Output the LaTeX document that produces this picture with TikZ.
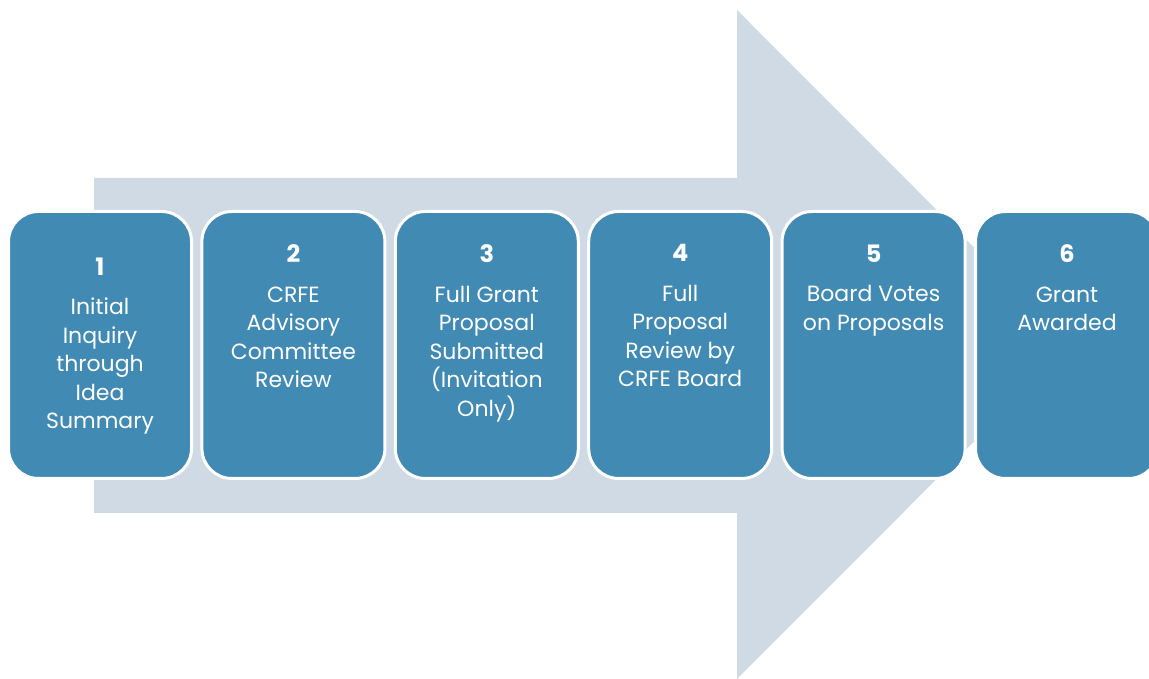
\documentclass[tikz,border=0pt]{standalone}
\usepackage{fontspec}
\setmainfont{Poppins}
\usetikzlibrary{positioning}
\definecolor{stepblue}{RGB}{65,138,179}
\definecolor{arrowgray}{RGB}{208,218,228}

\begin{document}
\begin{tikzpicture}[x=1pt,y=1pt]
    \tikzstyle{stepbox}=[rectangle,fill=stepblue,draw=white,line width=3,rounded corners=30,minimum width=183,minimum height=267,inner sep=0,outer sep=0,node distance=193.4]
    \tikzstyle{steptext}=[anchor=north,align=center,text=white,inner sep=0,font=\fontsize{22}{28.5}\selectfont]
    {
        \useasboundingbox (0,0) rectangle (1149,679);
        \clip (0,0) rectangle (1149,679);

        % big arrow behind the steps
        \fill[arrowgray] (94,501) -- (737,501) -- (737,669) -- (1071,334.5)
            -- (737,0) -- (737,166) -- (94,166) -- cycle;

        \node[stepbox] (b1) at (100,334) {};
        \node[stepbox] (b2) [right of=b1] {};
        \node[stepbox] (b3) [right of=b2] {};
        \node[stepbox] (b4) [right of=b3] {};
        \node[stepbox] (b5) [right of=b4] {};
        \node[stepbox] (b6) [right of=b5] {};

        \node[steptext] (t1) at ([yshift=-46]b1.north)
            {{\bfseries\fontsize{24}{28.5}\selectfont 1}\\[11pt] Initial\\Inquiry\\through\\Idea\\Summary};
        \node[steptext] (t2) at ([yshift=-33]b2.north)
            {{\bfseries\fontsize{24}{28.5}\selectfont 2}\\[11pt] CRFE\\Advisory\\Committee\\Review};
        \node[steptext] (t3) at ([yshift=-33]b3.north)
            {{\bfseries\fontsize{24}{28.5}\selectfont 3}\\[11pt] Full Grant\\Proposal\\Submitted\\(Invitation\\Only)};
        \node[steptext] (t4) at ([yshift=-33]b4.north)
            {{\bfseries\fontsize{24}{28.5}\selectfont 4}\\[11pt] Full\\Proposal\\Review by\\CRFE Board};
        \node[steptext] (t5) at ([yshift=-33]b5.north)
            {{\bfseries\fontsize{24}{28.5}\selectfont 5}\\[11pt] Board Votes\\on Proposals};
        \node[steptext] (t6) at ([yshift=-33]b6.north)
            {{\bfseries\fontsize{24}{28.5}\selectfont 6}\\[11pt] Grant\\Awarded};
    }
\end{tikzpicture}
\end{document}
